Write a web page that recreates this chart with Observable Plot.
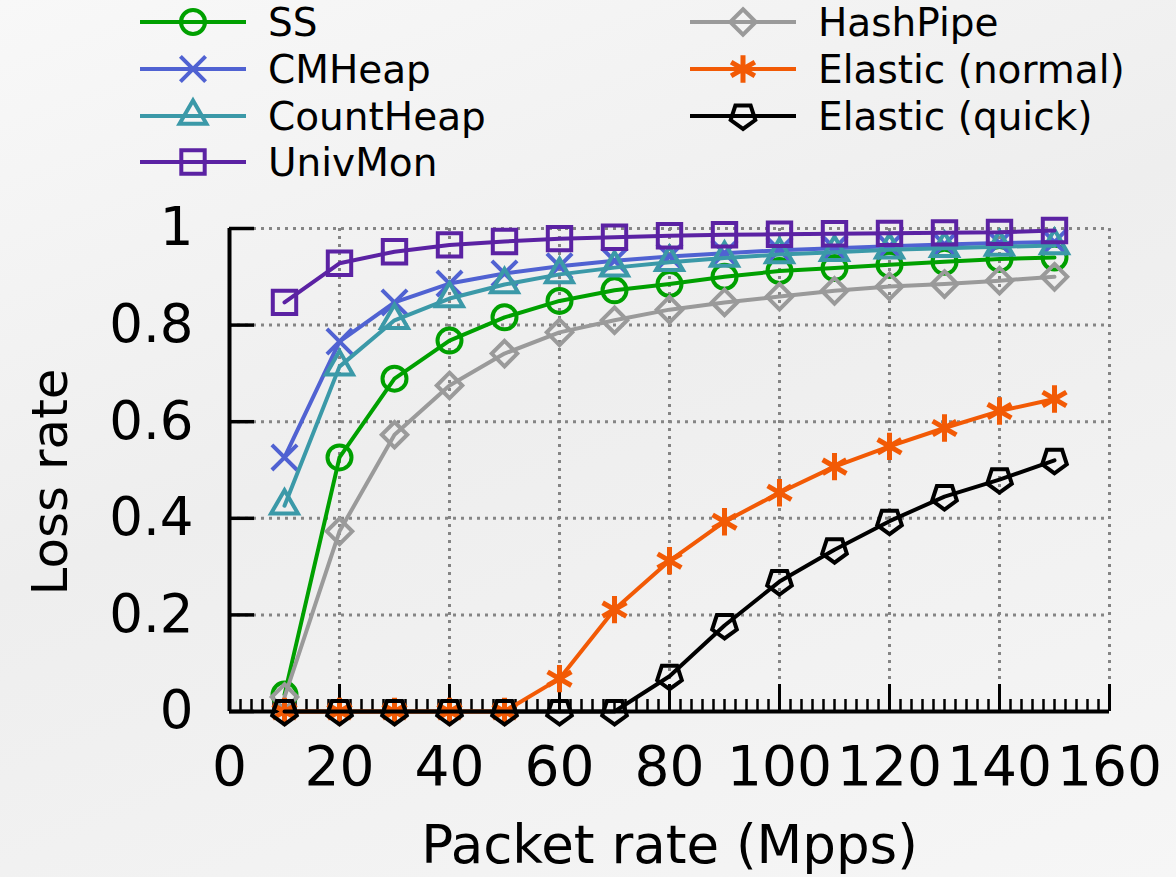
<!DOCTYPE html>
<html><head><meta charset="utf-8">
<script src="https://cdn.jsdelivr.net/npm/d3@7"></script>
<script src="https://cdn.jsdelivr.net/npm/@observablehq/plot@0.6"></script>
<style>
html,body{margin:0;padding:0;}
body{background:linear-gradient(160deg,#f8f8f8 0%,#eeeeee 45%,#f0f0f0 60%,#f6f6f6 100%);}
#wrap{position:relative;width:1176px;height:877px;overflow:hidden;font-family:"DejaVu Sans";}
#legend{position:absolute;left:0;top:0;width:1176px;height:190px;}
#chart{position:absolute;left:0;top:190px;}
.item{position:absolute;height:44px;display:flex;align-items:center;font-size:39px;color:#000;white-space:nowrap;}
.item svg{margin-right:22px;overflow:visible;}
</style></head><body>
<div id="wrap"><div id="legend"></div><div id="chart"></div></div>
<script>
const packetRates = [10,20,30,40,50,60,70,80,90,100,110,120,130,140,150];
const ssLoss        = [0.035,0.526,0.689,0.768,0.816,0.85,0.872,0.885,0.9,0.912,0.918,0.925,0.931,0.937,0.94];
const cmHeapLoss    = [0.526,0.766,0.847,0.886,0.907,0.922,0.933,0.942,0.949,0.955,0.959,0.963,0.967,0.97,0.972];
const countHeapLoss = [0.426,0.714,0.81,0.855,0.884,0.905,0.919,0.93,0.939,0.946,0.951,0.956,0.959,0.962,0.965];
const univMonLoss   = [0.847,0.928,0.952,0.966,0.973,0.979,0.982,0.985,0.987,0.988,0.989,0.99,0.991,0.992,0.996];
const hashPipeLoss  = [0.03,0.373,0.573,0.675,0.741,0.785,0.81,0.832,0.847,0.859,0.871,0.88,0.885,0.892,0.9];
const elasticNormalLoss = [0,0,0,0,0,0.068,0.211,0.312,0.393,0.453,0.507,0.549,0.587,0.622,0.647];
const elasticQuickLoss  = [0,0,0,0,0,0,0,0.073,0.178,0.269,0.335,0.394,0.445,0.48,0.52];

const seriesNames = ["SS","CMHeap","CountHeap","UnivMon","HashPipe","Elastic (normal)","Elastic (quick)"];
const seriesValues = [ssLoss,cmHeapLoss,countHeapLoss,univMonLoss,hashPipeLoss,elasticNormalLoss,elasticQuickLoss];
const seriesColors = ["#00a000","#5062d2","#3b99a8","#5b22a3","#9a9a9a","#f25a05","#000000"];

const xTicks = [0,20,40,60,80,100,120,140,160];
const xMinorTicks = d3.range(0,161,2);
const yTicks = [0,0.2,0.4,0.6,0.8,1];
const xTitle = "Packet rate (Mpps)";
const yTitle = "Loss rate";

const pentagonDown = {
  draw(context, size) {
    const R = Math.sqrt(size / Math.PI) * 1.08;
    for (let k = 0; k < 5; ++k) {
      const a = Math.PI / 2 + k * 2 * Math.PI / 5;
      const px = R * Math.cos(a), py = R * Math.sin(a);
      if (k === 0) context.moveTo(px, py); else context.lineTo(px, py);
    }
    context.closePath();
  }
};
const seriesSymbols = [d3.symbolCircle, d3.symbolTimes, d3.symbolTriangle, d3.symbolSquare, d3.symbolDiamond2, d3.symbolAsterisk, pentagonDown];
const seriesRadius = [12, 11.5, 10, 13.2, 11.5, 13, 12];
const seriesMarkerWidth = [4, 4, 4, 4, 4, 5, 4];

const rows = seriesNames.flatMap((name, i) => packetRates.map((x, j) => ({series: name, x, y: seriesValues[i][j]})));

const marks = [
  Plot.gridX(xTicks.filter(d => d > 0), {stroke: "#858585", strokeOpacity: 1, strokeWidth: 3, strokeDasharray: "3,5"}),
  Plot.gridY(yTicks.filter(d => d > 0), {stroke: "#858585", strokeOpacity: 1, strokeWidth: 3, strokeDasharray: "3,5"}),
  Plot.ruleY([0], {stroke: "#000", strokeWidth: 4}),
  Plot.ruleX([0], {stroke: "#000", strokeWidth: 4}),
  Plot.axisX(xMinorTicks, {tickSize: -12, strokeWidth: 2.5, tickFormat: () => "", label: null}),
  Plot.axisX(xTicks, {tickSize: -27, strokeWidth: 3, tickFormat: () => "", label: null}),
  Plot.axisX(xTicks, {tickSize: 0, tickPadding: 34, fontSize: 55, label: null}),
  Plot.axisY(yTicks, {tickSize: -25, strokeWidth: 3.5, tickFormat: () => "", label: null}),
  Plot.axisY(yTicks, {tickSize: 0, tickPadding: 36, fontSize: 53, tickFormat: d3.format("~g"), label: null}),
  Plot.text([xTitle], {frameAnchor: "bottom", dy: 135, fontSize: 53, lineAnchor: "middle", text: d => d}),
  Plot.text([yTitle], {frameAnchor: "left", dx: -179, dy: 12, rotate: -90, fontSize: 50, lineAnchor: "middle", textAnchor: "middle", text: d => d})
];
seriesNames.forEach((name, i) => {
  const d = rows.filter(r => r.series === name);
  marks.push(Plot.line(d, {x: "x", y: "y", stroke: seriesColors[i], strokeWidth: 4}));
  marks.push(Plot.dot(d, {x: "x", y: "y", stroke: seriesColors[i], strokeWidth: seriesMarkerWidth[i], fill: "none", symbol: seriesSymbols[i], r: seriesRadius[i]}));
});

const chart = Plot.plot({
  width: 1176, height: 687,
  marginTop: 38, marginBottom: 166, marginLeft: 229, marginRight: 67,
  x: {domain: [0,160]},
  y: {domain: [0,1]},
  style: {fontFamily: "DejaVu Sans", fontSize: "50px", background: "transparent", color: "#000", overflow: "visible"},
  marks
});
document.getElementById("chart").appendChild(chart);

// legend
const legendPos = [
  {left: 140, top: 0}, {left: 140, top: 47}, {left: 140, top: 94}, {left: 140, top: 140},
  {left: 690, top: 0}, {left: 690, top: 47}, {left: 690, top: 94}
];
const legend = d3.select("#legend");
seriesNames.forEach((name, i) => {
  const item = legend.append("div").attr("class", "item")
    .style("left", legendPos[i].left + "px").style("top", legendPos[i].top + "px");
  const svg = item.append("svg").attr("width", 106).attr("height", 44);
  svg.append("line").attr("x1", 0).attr("x2", 106).attr("y1", 22).attr("y2", 22)
    .attr("stroke", seriesColors[i]).attr("stroke-width", 4);
  const r = seriesRadius[i];
  svg.append("path").attr("transform", "translate(53,22)")
    .attr("d", d3.symbol(seriesSymbols[i], Math.PI * r * r)())
    .attr("fill", "none").attr("stroke", seriesColors[i]).attr("stroke-width", seriesMarkerWidth[i]);
  item.append("span").text(name);
});
</script>
</body></html>
